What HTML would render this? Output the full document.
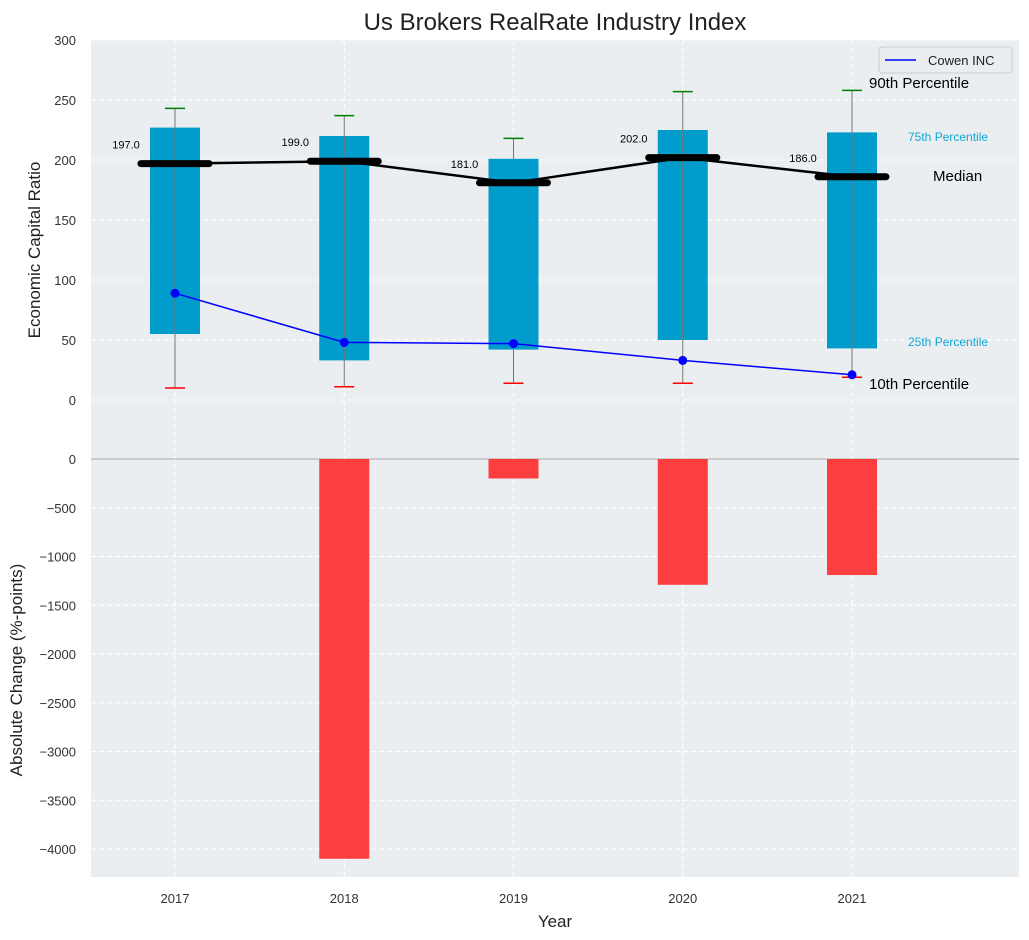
<!DOCTYPE html>
<html><head><meta charset="utf-8"><style>
body{margin:0;background:#fff;font-family:"Liberation Sans",sans-serif}
svg{display:block}
</style></head><body>
<svg id="c" width="1029" height="940" xmlns="http://www.w3.org/2000/svg" font-family="Liberation Sans, sans-serif"></svg>
<script>
const years=[2017,2018,2019,2020,2021];
const p10=[10,11,14,14,19];
const p25=[55,33,42,50,43];
const median=[197,199,181,202,186];
const p75=[227,220,201,225,223];
const p90=[243,237,218,257,258];
const cowen=[89,48,47,33,21];
const change=[0,-4100,-200,-1290,-1190];
const topTicks=[0,50,100,150,200,250,300];
const botTicks=[0,-500,-1000,-1500,-2000,-2500,-3000,-3500,-4000];

const NS="http://www.w3.org/2000/svg";
const svg=document.getElementById('c');
function el(t,a,p){const e=document.createElementNS(NS,t);for(const k in a)e.setAttribute(k,a[k]);(p||svg).appendChild(e);return e;}
const L=91,R=1019;
const x=v=>175+(v-2017)*169.25;
const yT=v=>400-1.2*v;
const yB=v=>459+0.0975*(-v);
const fmt=t=>String(t).replace('-','\u2212');

let e;
e=el('rect',{x:L,y:40,width:R-L,height:419,fill:'#eaeef0'});

e=el('rect',{x:L,y:459,width:R-L,height:418,fill:'#eaeef0'});

topTicks.forEach(t=>{el('line',{x1:L,x2:R,y1:yT(t),y2:yT(t),stroke:'#fff','stroke-dasharray':'5,3'});
 e=el('text',{x:76,y:yT(t)+5,'text-anchor':'end','font-size':13,fill:'#333'});e.textContent=fmt(t);
 });
botTicks.forEach(t=>{el('line',{x1:L,x2:R,y1:yB(t),y2:yB(t),stroke:'#fff','stroke-dasharray':'5,3'});
 e=el('text',{x:76,y:yB(t)+5,'text-anchor':'end','font-size':13,fill:'#333'});e.textContent=fmt(t);
 });
years.forEach(yr=>{el('line',{x1:x(yr),x2:x(yr),y1:40,y2:877,stroke:'#fff','stroke-dasharray':'5,3'});
 e=el('text',{x:x(yr),y:903,'text-anchor':'middle','font-size':13,fill:'#333'});e.textContent=yr;
 });
el('line',{x1:L,x2:R,y1:459,y2:459,stroke:'#aaa','stroke-width':1});
years.forEach((yr,i)=>{
 const cx=x(yr);
 e=el('rect',{x:cx-25,y:yT(p75[i]),width:50,height:yT(p25[i])-yT(p75[i]),fill:'#009ccc'});
 
 e=el('line',{x1:cx,x2:cx,y1:yT(p90[i]),y2:yT(p10[i]),stroke:'#777','stroke-width':1});
 
 e=el('line',{x1:cx-10,x2:cx+10,y1:yT(p90[i]),y2:yT(p90[i]),stroke:'green','stroke-width':1.5});
 
 e=el('line',{x1:cx-10,x2:cx+10,y1:yT(p10[i]),y2:yT(p10[i]),stroke:'red','stroke-width':1.5});
 
 if(change[i]!==0){e=el('rect',{x:cx-25,y:459,width:50,height:yB(change[i])-459,fill:'#ff2a2a','fill-opacity':0.9});
 }
});
e=el('polyline',{points:years.map((yr,i)=>x(yr)+','+yT(median[i])).join(' '),fill:'none',stroke:'#000','stroke-width':2.5});

years.forEach((yr,i)=>{const cx=x(yr);
 e=el('line',{x1:cx-34,x2:cx+34,y1:yT(median[i]),y2:yT(median[i]),stroke:'#000','stroke-width':7,'stroke-linecap':'round'});
 
 e=el('text',{x:cx-49,y:yT(median[i])-15,'text-anchor':'middle','font-size':11,fill:'#000'});e.textContent=median[i].toFixed(1);
 
});
e=el('polyline',{points:years.map((yr,i)=>x(yr)+','+yT(cowen[i])).join(' '),fill:'none',stroke:'#0000ff','stroke-width':1.5});

years.forEach((yr,i)=>{e=el('circle',{cx:x(yr),cy:yT(cowen[i]),r:4.5,fill:'#0000ff'});
 });
const ann=[[869,88,'90th Percentile',15,'#000'],[908,141,'75th Percentile',12,'#10a8d8'],[933,181,'Median',15,'#000'],[908,346,'25th Percentile',12,'#10a8d8'],[869,389,'10th Percentile',15,'#000']];
ann.forEach(a=>{e=el('text',{x:a[0],y:a[1],'font-size':a[3],fill:a[4]});e.textContent=a[2];
 });
const g=el('g',{});
el('rect',{x:879,y:47,width:133,height:26,rx:3,fill:'#eaeef0',stroke:'#ccc'},g);
el('line',{x1:885,x2:916,y1:60,y2:60,stroke:'#0000ff','stroke-width':1.5},g);
e=el('text',{x:928,y:65,'font-size':13,fill:'#222'},g);e.textContent='Cowen INC';
e=el('text',{x:555,y:30,'text-anchor':'middle','font-size':24,fill:'#222'});e.textContent='Us Brokers RealRate Industry Index';

e=el('text',{x:555,y:927,'text-anchor':'middle','font-size':17,fill:'#222'});e.textContent='Year';

e=el('text',{x:0,y:0,'text-anchor':'middle','font-size':17,fill:'#222',transform:'translate(40,250) rotate(-90)'});e.textContent='Economic Capital Ratio';

e=el('text',{x:0,y:0,'text-anchor':'middle','font-size':17,fill:'#222',transform:'translate(22,670) rotate(-90)'});e.textContent='Absolute Change (%-points)';

</script>
</body></html>
